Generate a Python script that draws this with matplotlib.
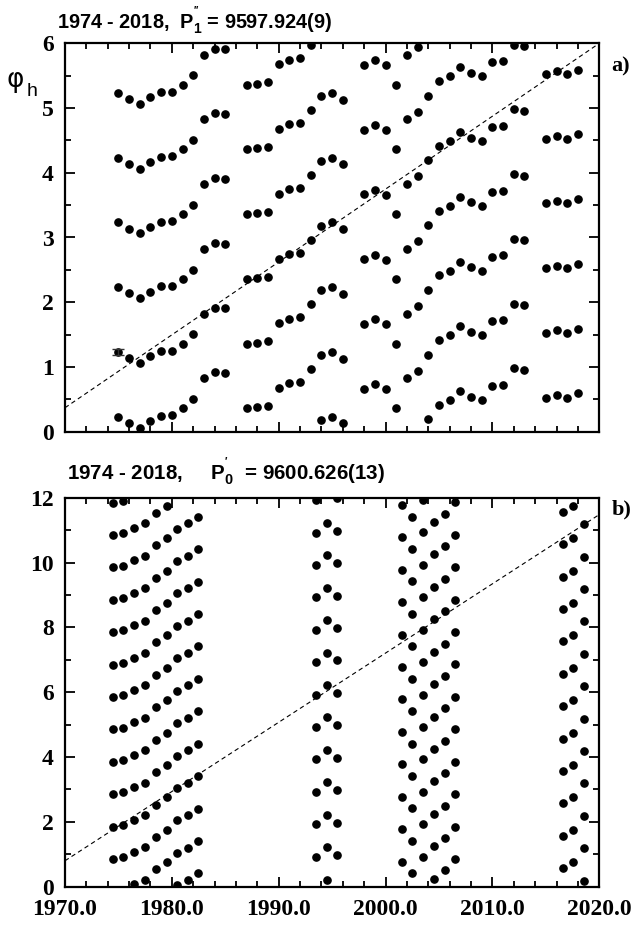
import matplotlib
matplotlib.use("Agg")
import matplotlib.pyplot as plt
from matplotlib.ticker import MultipleLocator, FixedLocator
import numpy as np

plt.rcParams['mathtext.fontset'] = 'custom'
plt.rcParams['mathtext.rm'] = 'Liberation Sans:bold'
plt.rcParams['mathtext.bf'] = 'Liberation Sans:bold'
plt.rcParams['mathtext.it'] = 'Liberation Sans:bold'

# ---------------- data: panel a) ----------------
years_a = [1975.0, 1976.0, 1977.0, 1978.0, 1979.0, 1980.0, 1981.0, 1982.0, 1983.0,
           1984.0, 1985.0, 1987.0, 1988.0, 1989.0, 1990.0, 1991.0, 1992.0, 1993.0,
           1994.0, 1995.0, 1996.0, 1998.0, 1999.0, 2000.0, 2001.0, 2002.0, 2003.0,
           2004.0, 2005.0, 2006.0, 2007.0, 2008.0, 2009.0, 2010.0, 2011.0, 2012.0,
           2013.0, 2015.0, 2016.0, 2017.0, 2018.0]
phase_a = [0.232, 0.139, 0.062, 0.165, 0.247, 0.253, 0.361, 0.505, 0.825,
           0.918, 0.907, 0.361, 0.377, 0.397, 0.675, 0.748, 0.768, 0.969,
           0.185, 0.232, 0.130, 0.665, 0.737, 0.660, 0.361, 0.825, 0.943,
           0.191, 0.413, 0.490, 0.629, 0.541, 0.490, 0.706, 0.722, 0.980,
           0.954, 0.526, 0.567, 0.526, 0.593]
copies_a = [0, 1, 2, 3, 4, 5]
err_year_a = [1975.0]
err_val_a = [1.232]
err_size_a = [0.05]
fit_x_a = [1970.0, 2020.0]
fit_y_a = [0.37, 6.00]
title_a = r"1974 - 2018,  P$_{1}^{''}$ = 9597.924(9)"

# ---------------- data: panel b) ----------------
years_b = [1974.46, 1975.45, 1976.45, 1977.48, 1978.48, 1979.51, 1980.50, 1981.48,
           1982.47, 1993.48, 1994.48, 1995.47, 2001.50, 2002.49, 2003.52, 2004.52,
           2005.52, 2006.51, 2016.56, 2017.55, 2018.55]
phase_b = [0.850, 0.907, 0.070, 0.210, 0.535, 0.752, 0.045, 0.208,
           0.410, 0.926, 0.222, 0.978, 0.775, 0.415, 0.928, 0.250,
           0.500, 0.855, 0.568, 0.753, 0.185]
copies_b = list(range(12))
fit_x_b = [1970.0, 2020.0]
fit_y_b = [0.80, 11.48]
title_b = r"1974 - 2018,     P$_{0}^{'}$  = 9600.626(13)"

xticks = [1970.0, 1980.0, 1990.0, 2000.0, 2010.0, 2020.0]
xticklabels = ["1970.0", "1980.0", "1990.0", "2000.0", "2010.0", "2020.0"]

W, H = 635, 925
fig = plt.figure(figsize=(W / 100, H / 100), dpi=100)

def px_axes(l, t, r, b):
    return fig.add_axes([l / W, (H - b) / H, (r - l) / W, (b - t) / H])

axa = px_axes(65, 43.3, 599.3, 431.7)
axb = px_axes(65, 497.7, 599.3, 886.7)

tickfont = dict(family='Liberation Serif', weight='bold', size=17)

def style(ax, ymax, ymaj, ymin, xlabels):
    ax.set_xlim(1970, 2020)
    ax.set_ylim(0, ymax)
    ax.xaxis.set_major_locator(FixedLocator(xticks))
    ax.xaxis.set_minor_locator(MultipleLocator(2))
    ax.yaxis.set_major_locator(MultipleLocator(ymaj))
    ax.yaxis.set_minor_locator(MultipleLocator(ymin))
    ax.tick_params(which='both', direction='in', top=True, right=True, width=1.3)
    ax.tick_params(which='major', length=7)
    ax.tick_params(which='minor', length=4.5)
    ax.tick_params(axis='y', pad=8)
    ax.tick_params(axis='x', pad=9)
    for s in ax.spines.values():
        s.set_linewidth(1.6)
    if xlabels:
        ax.set_xticklabels(xticklabels, fontdict=tickfont)
    else:
        ax.set_xticklabels([])
    ylab = [str(int(v)) for v in ax.get_yticks()]
    ax.set_yticks(ax.get_yticks())
    ax.set_yticklabels(ylab, fontdict=tickfont)
    ax.set_ylim(0, ymax)

# panel a
ya = np.array(phase_a)
for k in copies_a:
    axa.plot(years_a, ya + k, 'o', color='black', ms=5.2, mec='black', ls='none')
axa.errorbar(err_year_a, err_val_a, yerr=err_size_a, fmt='none', ecolor='#333333',
             elinewidth=1.0, capsize=4, capthick=1.0)
axa.plot(fit_x_a, fit_y_a, color='black', lw=0.8, dashes=(4, 3))
style(axa, 6, 1, 0.5, False)

# panel b
yb = np.array(phase_b)
for k in copies_b:
    axb.plot(years_b, yb + k, 'o', color='black', ms=5.2, mec='black', ls='none')
axb.plot(fit_x_b, fit_y_b, color='black', lw=0.8, dashes=(4, 3))
style(axb, 12, 2, 1, True)

# titles
fig.text(57.3 / W, (H - 28.3) / H, title_a, ha='left', va='baseline',
         family='Liberation Sans', weight='bold', size=14.3)
fig.text(67.3 / W, (H - 479.3) / H, title_b, ha='left', va='baseline',
         family='Liberation Sans', weight='bold', size=14.8)

# panel labels
panelfont = dict(family='Liberation Serif', weight='bold', size=16)
fig.text(611.7 / W, (H - 71.7) / H, "a)", ha='left', va='baseline', **panelfont)
fig.text(611.7 / W, (H - 514.0) / H, "b)", ha='left', va='baseline', **panelfont)

# y label phi_h
fig.text(6.0 / W, (H - 80.0) / H, "φ", ha='left', va='center',
         family='DejaVu Sans', size=19)
fig.text(27.0 / W, (H - 91.5) / H, "h", ha='left', va='center',
         family='Liberation Sans', size=14)

fig.savefig("out.png", dpi=100)
